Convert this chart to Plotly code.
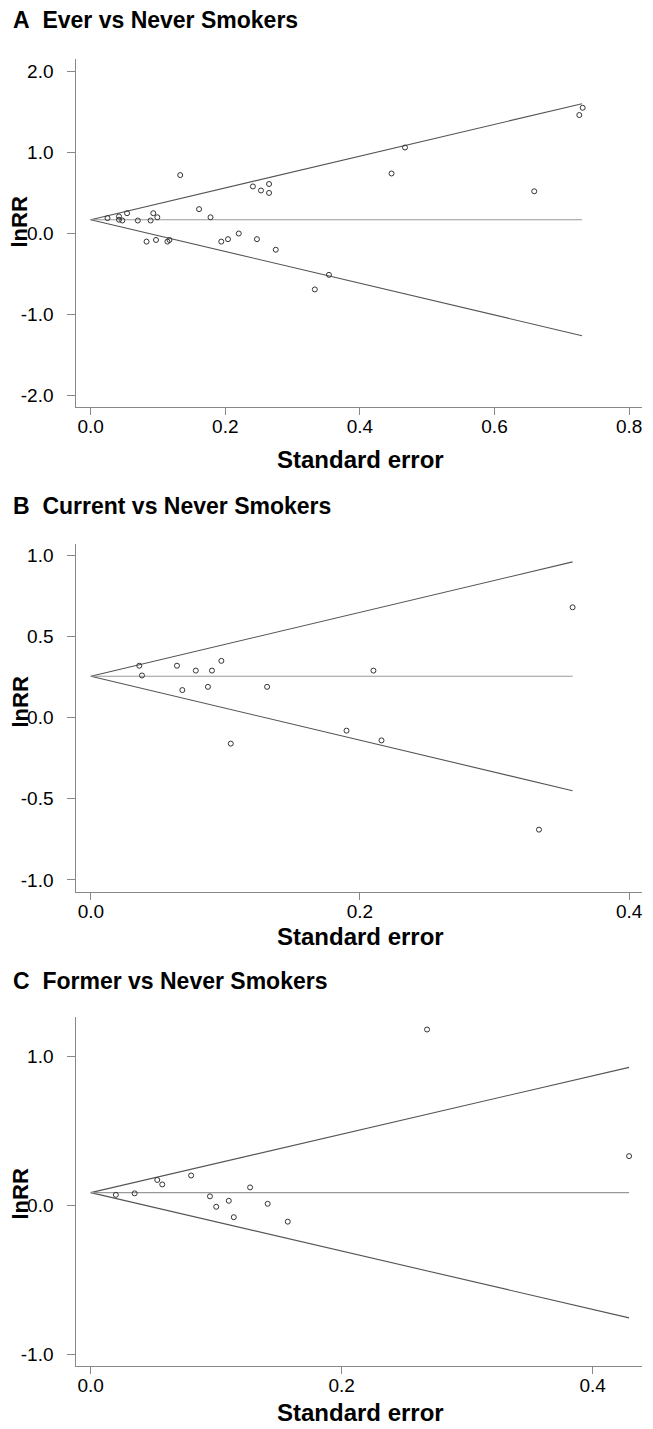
import plotly.graph_objects as go

# Panel A - Ever vs Never smokers
se_a = [0.025, 0.042, 0.042, 0.047, 0.054, 0.070, 0.089, 0.093, 0.099, 0.083, 0.097,
        0.114, 0.117, 0.133, 0.161, 0.178, 0.194, 0.204, 0.220, 0.241, 0.247, 0.253,
        0.265, 0.265, 0.275, 0.333, 0.354, 0.447, 0.467, 0.659, 0.726, 0.731]
lnrr_a = [0.19, 0.21, 0.17, 0.16, 0.25, 0.16, 0.16, 0.25, 0.20, -0.10, -0.08,
          -0.10, -0.08, 0.72, 0.30, 0.20, -0.10, -0.07, 0.00, 0.58, -0.07, 0.53,
          0.61, 0.50, -0.20, -0.69, -0.51, 0.74, 1.06, 0.52, 1.46, 1.55]
funnel_se_a = [0.0, 0.73]
funnel_mid_a = [0.17, 0.17]
funnel_up_a = [0.17, 1.60]
funnel_lo_a = [0.17, -1.26]

# Panel B - Current vs Never smokers
se_b = [0.036, 0.038, 0.064, 0.068, 0.078, 0.087, 0.090, 0.097, 0.104, 0.131,
        0.190, 0.210, 0.216, 0.333, 0.358]
lnrr_b = [0.32, 0.26, 0.32, 0.17, 0.29, 0.19, 0.29, 0.35, -0.16, 0.19,
          -0.08, 0.29, -0.14, -0.69, 0.68]
funnel_se_b = [0.0, 0.358]
funnel_mid_b = [0.255, 0.255]
funnel_up_b = [0.255, 0.96]
funnel_lo_b = [0.255, -0.45]

# Panel C - Former vs Never smokers
se_c = [0.020, 0.035, 0.053, 0.057, 0.080, 0.095, 0.100, 0.110, 0.114, 0.127,
        0.141, 0.157, 0.268, 0.429]
lnrr_c = [0.07, 0.08, 0.17, 0.14, 0.20, 0.06, -0.01, 0.03, -0.08, 0.12,
          0.01, -0.11, 1.18, 0.33]
funnel_se_c = [0.0, 0.429]
funnel_mid_c = [0.085, 0.085]
funnel_up_c = [0.085, 0.926]
funnel_lo_c = [0.085, -0.756]

# tick labels (hyphen minus as in the original)
yt_a = [-2, -1, 0, 1, 2]
yl_a = ["-2.0", "-1.0", "0.0", "1.0", "2.0"]
yt_b = [-1, -0.5, 0, 0.5, 1]
yl_b = ["-1.0", "-0.5", "0.0", "0.5", "1.0"]
yt_c = [-1, 0, 1]
yl_c = ["-1.0", "0.0", "1.0"]
xt_a = [0, 0.2, 0.4, 0.6, 0.8]
xl_a = ["0.0", "0.2", "0.4", "0.6", "0.8"]
xt_bc = [0, 0.2, 0.4]
xl_bc = ["0.0", "0.2", "0.4"]

titles = ["A\u00a0\u00a0Ever vs Never Smokers",
          "B\u00a0\u00a0Current vs Never Smokers",
          "C\u00a0\u00a0Former vs Never Smokers"]

W, H = 653, 1429
FONT = "Liberation Sans, Arial, sans-serif"

panels = [
    (se_a, lnrr_a, funnel_se_a, funnel_mid_a, funnel_up_a, funnel_lo_a),
    (se_b, lnrr_b, funnel_se_b, funnel_mid_b, funnel_up_b, funnel_lo_b),
    (se_c, lnrr_c, funnel_se_c, funnel_mid_c, funnel_up_c, funnel_lo_c),
]

fig = go.Figure()
for i, (se, lr, fse, fmid, fup, flo) in enumerate(panels):
    xa = "x" if i == 0 else "x%d" % (i + 1)
    ya = "y" if i == 0 else "y%d" % (i + 1)
    for yy, col in [(fup, "#555555"), (flo, "#555555"), (fmid, "#999999")]:
        fig.add_trace(go.Scatter(x=fse, y=yy, mode="lines", xaxis=xa, yaxis=ya,
                                 line=dict(color=col, width=1.1), hoverinfo="skip"))
    fig.add_trace(go.Scatter(x=se, y=lr, mode="markers", xaxis=xa, yaxis=ya,
                             marker=dict(symbol="circle-open", size=5, color="#333333",
                                         line=dict(color="#333333", width=1))))

# pixel boxes of the plot areas: (top, bottom)
boxes = [(50.7, 399.3), (536.0, 884.3), (1009.3, 1358.3)]
xranges = [[-0.0214, 0.8184], [-0.0108, 0.4092], [-0.0115, 0.4389]]
yranges = [[-2.143, 2.155], [-1.076, 1.07], [-1.081, 1.262]]
yticks = [(yt_a, yl_a), (yt_b, yl_b), (yt_c, yl_c)]
xticks = [(xt_a, xl_a), (xt_bc, xl_bc), (xt_bc, xl_bc)]

x_dom = [68.3 / W, 633.5 / W]
axis_common = dict(showline=True, linecolor="#888888", linewidth=1, ticks="outside",
                   tickcolor="#888888", showgrid=False, zeroline=False,
                   tickfont=dict(family=FONT, size=19, color="black"))

layout = {}
for i in range(3):
    sx = "" if i == 0 else str(i + 1)
    top, bot = boxes[i]
    layout["xaxis" + sx] = dict(axis_common, domain=x_dom, range=xranges[i],
                                tickvals=xticks[i][0], ticktext=xticks[i][1],
                                ticklen=7, ticklabelstandoff=-5, anchor="y" + sx)
    layout["yaxis" + sx] = dict(axis_common, domain=[1 - bot / H, 1 - top / H],
                                range=yranges[i], tickvals=yticks[i][0],
                                ticktext=yticks[i][1], ticklen=8,
                                ticklabelstandoff=10, anchor="x" + sx)

# text positions (pixels)
title_y = [12, 498, 973]
xtitle_y = [452, 928.5, 1404]
ytitle_y = [214, 694, 1186]

ann = []
for i in range(3):
    ann.append(dict(text="<b>%s</b>" % titles[i], x=3 / W, y=1 - title_y[i] / H,
                    xref="paper", yref="paper", xanchor="left", yanchor="middle",
                    showarrow=False, font=dict(family=FONT, size=23, color="black")))
    ann.append(dict(text="<b>Standard error</b>", x=352 / W, y=1 - xtitle_y[i] / H,
                    xref="paper", yref="paper", xanchor="center", yanchor="middle",
                    showarrow=False, font=dict(family=FONT, size=24, color="black")))
    ann.append(dict(text="<b>lnRR</b>", x=11.5 / W, y=1 - ytitle_y[i] / H, textangle=-90,
                    xref="paper", yref="paper", xanchor="center", yanchor="middle",
                    showarrow=False, font=dict(family=FONT, size=22, color="black")))

fig.update_layout(width=W, height=H, margin=dict(l=0, r=0, t=0, b=0),
                  plot_bgcolor="white", paper_bgcolor="white", showlegend=False,
                  annotations=ann, **layout)

fig.write_html("out.html")
